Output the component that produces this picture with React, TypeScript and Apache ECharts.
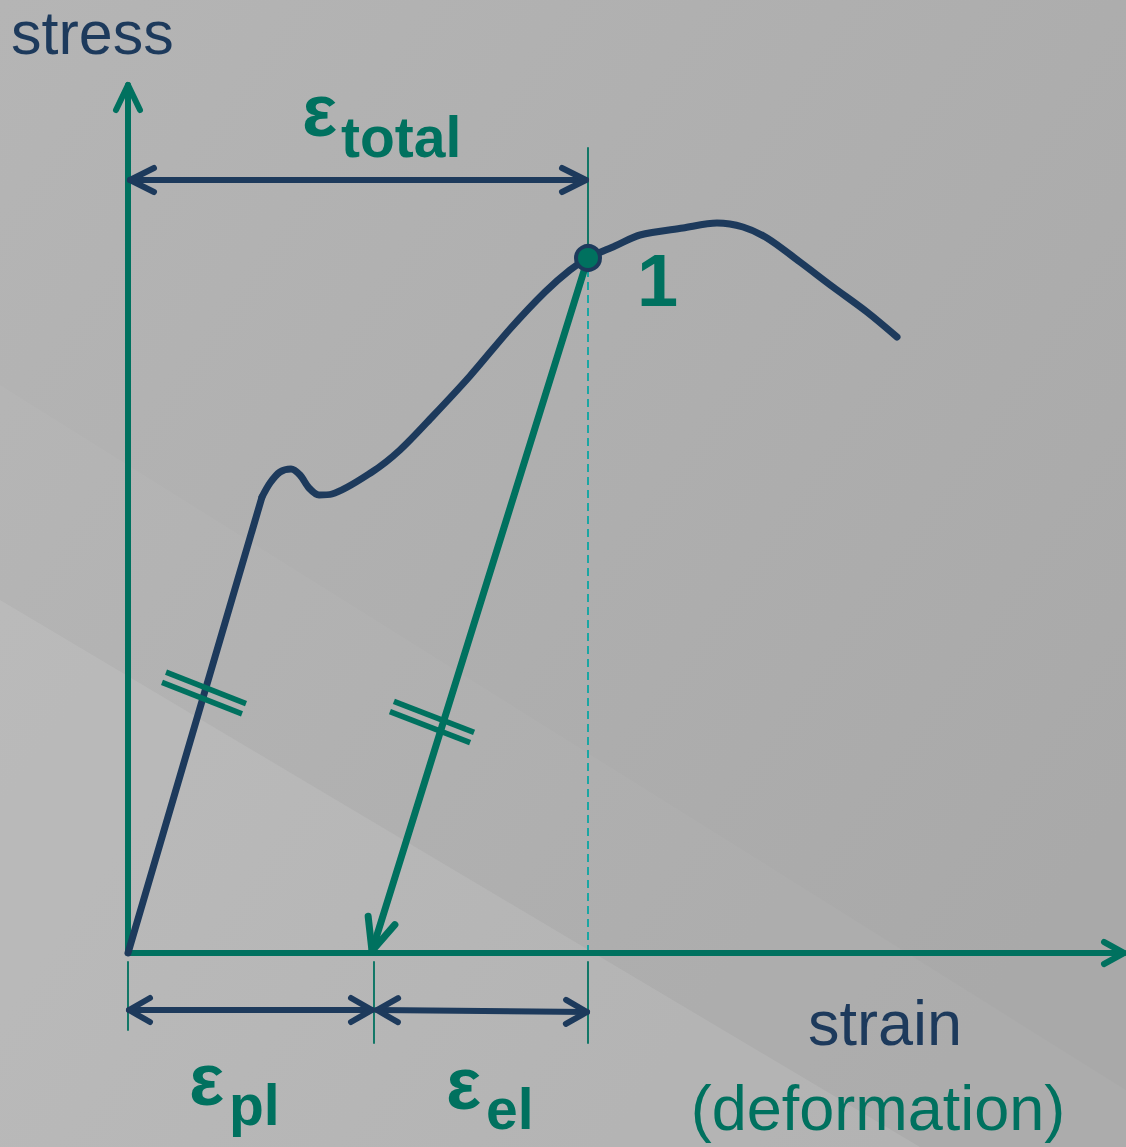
import React, { useEffect, useRef } from "react";
import * as echarts from "echarts";

// ---- data (strain / stress in diagram units) ----
const elasticStrain = [0, 134];
const elasticStress = [0, 456];
const curveStrain = [134, 142, 152, 163, 172, 181, 191, 204, 244, 272, 305, 342, 382, 417, 442, 460, 487, 512, 555, 589, 615, 639, 672, 705, 739, 769];
const curveStress = [456, 470, 481, 484, 478, 465, 458, 459, 481, 503, 537, 577, 624, 661, 683, 695, 707, 718, 725, 730, 726, 715, 691, 666, 641, 616];
const point1 = [460, 695];
const plasticStrain = 246;
const totalStrain = 460;
const xAxisEnd = 996;
const yAxisEnd = 868;
const totalArrowLevel = 773;
const bottomArrowLevel = -57;

const NAVY = "#1d3a5c";
const TEAL = "#00715f";
const CYAN = "#1aa6a3";
const FONT = "'Liberation Sans', Arial, sans-serif";

type P = [number, number];

function chevron(tip: P, from: P, len: number, half: number): P[] {
  const dx = tip[0] - from[0];
  const dy = tip[1] - from[1];
  const d = Math.hypot(dx, dy);
  const ux = dx / d, uy = dy / d;
  const px = -uy, py = ux;
  const bx = tip[0] - ux * len, by = tip[1] - uy * len;
  return [[bx + px * half, by + py * half], tip, [bx - px * half, by - py * half]];
}

function lineSeries(data: P[], color: string, width: number, extra: any = {}) {
  return {
    type: "line",
    data,
    symbol: "none",
    silent: true,
    z: extra.z ?? 3,
    smooth: extra.smooth ?? false,
    lineStyle: { color, width, cap: extra.cap ?? "round", join: "round", type: extra.type ?? "solid" },
  };
}

function hash(center: P, dir: P, len: number, gap: number, color: string) {
  const d = Math.hypot(dir[0], dir[1]);
  const ux = dir[0] / d, uy = dir[1] / d;
  const px = -uy, py = ux;
  const out: any[] = [];
  for (const s of [-1, 1]) {
    const cx = center[0] + px * gap * s / 2;
    const cy = center[1] + py * gap * s / 2;
    out.push(lineSeries([[cx - ux * len / 2, cy - uy * len / 2], [cx + ux * len / 2, cy + uy * len / 2]], color, 5.5, { z: 5, cap: "butt" }));
  }
  return out;
}

export default function App() {
  const ref = useRef<HTMLDivElement>(null);
  useEffect(() => {
    const chart = echarts.init(ref.current!, undefined, { renderer: "svg" });
    const elastic: P[] = elasticStrain.map((x, i) => [x, elasticStress[i]]);
    const curve: P[] = curveStrain.map((x, i) => [x, curveStress[i]]);
    const tipUnload: P = [plasticStrain - 2, 2];
    const p1: P = [point1[0], point1[1]];

    const series: any[] = [
      // axes
      lineSeries([[0, 0], [0, yAxisEnd]], TEAL, 6, { z: 2 }),
      lineSeries(chevron([0, yAxisEnd], [0, 0], 25, 12), TEAL, 6, { z: 2 }),
      lineSeries([[0, 0], [xAxisEnd, 0]], TEAL, 6, { z: 2 }),
      lineSeries(chevron([xAxisEnd, 0], [0, 0], 20, 11), TEAL, 6, { z: 2 }),
      // reference lines at total strain
      lineSeries([[totalStrain, p1[1]], [totalStrain, 805]], TEAL, 1.8, { z: 1 }),
      lineSeries([[totalStrain, 0], [totalStrain, p1[1]]], CYAN, 2, { z: 1, type: [8, 5], cap: "butt" }),
      lineSeries([[0, -9], [0, -77]], TEAL, 1.8, { z: 1 }),
      lineSeries([[plasticStrain, -9], [plasticStrain, -90]], TEAL, 1.8, { z: 1 }),
      lineSeries([[totalStrain, -9], [totalStrain, -90]], TEAL, 1.8, { z: 1 }),
      // stress-strain curve
      lineSeries(elastic, NAVY, 7, { z: 4 }),
      lineSeries(curve, NAVY, 7, { z: 4, smooth: 0.3 }),
      // unloading line
      lineSeries([p1, tipUnload], TEAL, 7, { z: 5 }),
      lineSeries(chevron(tipUnload, p1, 32, 14), TEAL, 7, { z: 5 }),
      // ε total arrow
      lineSeries([[2, totalArrowLevel], [totalStrain - 2, totalArrowLevel]], NAVY, 6, { z: 3 }),
      lineSeries(chevron([2, totalArrowLevel], [totalStrain, totalArrowLevel], 24, 12), NAVY, 6, { z: 3 }),
      lineSeries(chevron([totalStrain - 2, totalArrowLevel], [0, totalArrowLevel], 24, 12), NAVY, 6, { z: 3 }),
      // ε pl arrow
      lineSeries([[1, bottomArrowLevel], [plasticStrain - 2, bottomArrowLevel]], NAVY, 6, { z: 3 }),
      lineSeries(chevron([1, bottomArrowLevel], [plasticStrain, bottomArrowLevel], 21, 12), NAVY, 6, { z: 3 }),
      lineSeries(chevron([plasticStrain - 2, bottomArrowLevel], [0, bottomArrowLevel], 21, 12), NAVY, 6, { z: 3 }),
      // ε el arrow
      lineSeries([[plasticStrain + 3, bottomArrowLevel], [totalStrain - 1, bottomArrowLevel - 2]], NAVY, 6, { z: 3 }),
      lineSeries(chevron([plasticStrain + 3, bottomArrowLevel], [totalStrain, bottomArrowLevel - 2], 21, 12), NAVY, 6, { z: 3 }),
      lineSeries(chevron([totalStrain - 1, bottomArrowLevel - 2], [plasticStrain, bottomArrowLevel], 21, 12), NAVY, 6, { z: 3 }),
      // equality hash marks
      ...hash([76, 260], [80, -31.5], 86, 11, TEAL),
      ...hash([304, 231], [80, -31], 86, 11, TEAL),
      // point 1
      {
        type: "scatter",
        data: [p1],
        symbol: "circle",
        symbolSize: 24,
        silent: true,
        z: 6,
        itemStyle: { color: TEAL, borderColor: NAVY, borderWidth: 4, opacity: 1 },
      },
    ];

    const txt = (text: string, x: number, baseline: number, size: number, color: string, bold: boolean, align = "left") => ({
      type: "text",
      x,
      y: baseline - 0.35 * size,
      z: 20,
      silent: true,
      style: {
        text,
        fill: color,
        font: `${bold ? "bold " : ""}${size}px ${FONT}`,
        lineHeight: Math.round(size * 0.8),
        textAlign: align,
        textVerticalAlign: "middle",
      },
    });

    chart.setOption({
      animation: false,
      backgroundColor: {
        type: "linear",
        x: 0, y: 0, x2: 1, y2: 0.7,
        colorStops: [
          { offset: 0, color: "#b5b5b5" },
          { offset: 1, color: "#a9a9a9" },
        ],
      },
      grid: { left: 0, right: 0, top: 0, bottom: 0, containLabel: false },
      xAxis: { type: "value", min: -128, max: 998, show: false, splitLine: { show: false } },
      yAxis: { type: "value", min: -194, max: 953, show: false, splitLine: { show: false } },
      graphic: [
        {
          type: "polygon",
          z: -10,
          silent: true,
          shape: { points: [[0, 385], [1126, 1090], [1126, 1147], [0, 1147]] },
          style: { fill: "rgba(255,255,255,0.035)" },
        },
        {
          type: "polygon",
          z: -10,
          silent: true,
          shape: { points: [[0, 600], [920, 1147], [0, 1147]] },
          style: { fill: "rgba(255,255,255,0.09)" },
        },
        txt("stress", 11, 54, 61, NAVY, false),
        txt("ε", 302, 136, 74, TEAL, true),
        txt("total", 341, 157, 57, TEAL, true),
        txt("1", 637, 306, 74, TEAL, true),
        txt("ε", 189, 1105, 74, TEAL, true),
        txt("pl", 229, 1125, 57, TEAL, true),
        txt("ε", 446, 1109, 74, TEAL, true),
        txt("el", 486, 1129, 57, TEAL, true),
        txt("strain", 885, 1045, 63, NAVY, false, "center"),
        txt("(deformation)", 878, 1130, 63, TEAL, false, "center"),
      ],
      series,
    });
    return () => chart.dispose();
  }, []);
  return <div ref={ref} style={{ position: "fixed", left: 0, top: 0, width: 1126, height: 1147 }} />;
}
